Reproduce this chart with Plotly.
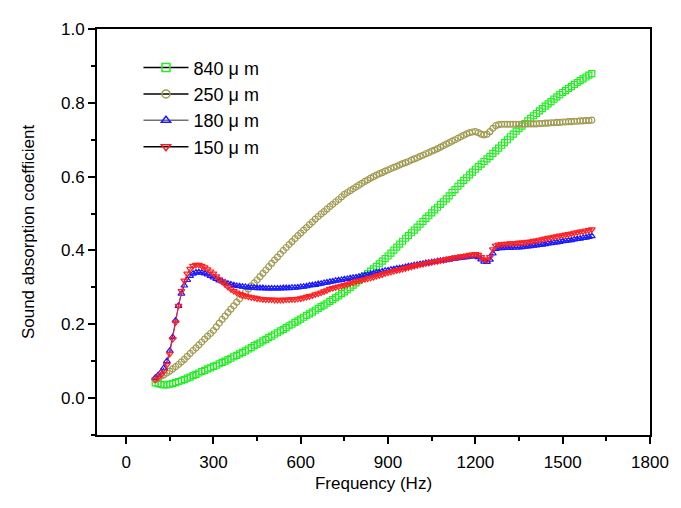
import numpy as np
import plotly.graph_objects as go

# frequency grid (Hz)
freq = np.arange(100, 1610, 10)

a_840 = [
    .041, .039, .037, .036, .036, .038, .040, .042, .045, .047,
    .050, .054, .057, .061, .064, .068, .072, .075, .079, .082,
    .086, .089, .093, .097, .100, .104, .108, .112, .116, .120,
    .124, .128, .133, .137, .142, .146, .150, .155, .159, .164,
    .168, .173, .177, .182, .186, .191, .196, .200, .205, .209,
    .214, .219, .224, .228, .233, .238, .243, .248, .252, .257,
    .262, .267, .272, .277, .283, .288, .294, .300, .306, .312,
    .318, .324, .331, .337, .344, .350, .357, .364, .371, .378,
    .385, .393, .401, .409, .417, .425, .433, .440, .448, .455,
    .463, .471, .479, .487, .494, .502, .510, .517, .525, .532,
    .540, .548, .557, .565, .574, .582, .590, .597, .605, .612,
    .620, .627, .634, .641, .648, .655, .663, .670, .677, .685,
    .692, .700, .708, .715, .723, .730, .737, .744, .751, .758,
    .765, .771, .778, .784, .791, .797, .803, .810, .816, .822,
    .828, .833, .839, .844, .850, .855, .860, .865, .870, .875,
    .879,
]

a_250 = [
    .050, .054, .059, .063, .068, .073, .079, .085, .091, .098,
    .105, .113, .121, .129, .136, .144, .152, .160, .168, .175,
    .183, .193, .203, .213, .222, .232, .241, .250, .260, .269,
    .278, .287, .295, .304, .312, .320, .329, .338, .347, .356,
    .365, .374, .382, .391, .400, .408, .416, .424, .432, .440,
    .447, .455, .462, .470, .477, .485, .492, .499, .505, .512,
    .519, .525, .532, .538, .545, .552, .557, .562, .567, .572,
    .577, .582, .587, .591, .596, .600, .604, .608, .611, .615,
    .618, .622, .625, .628, .632, .635, .638, .641, .645, .648,
    .651, .655, .658, .662, .665, .669, .672, .676, .680, .684,
    .688, .692, .696, .700, .704, .708, .712, .716, .719, .721,
    .722, .719, .715, .713, .715, .722, .731, .738, .741, .742,
    .742, .742, .742, .742, .742, .742, .742, .742, .743, .743,
    .743, .743, .744, .744, .745, .745, .746, .746, .747, .747,
    .748, .748, .749, .749, .750, .750, .751, .751, .752, .752,
    .753,
]

a_180 = [
    .055, .062, .070, .082, .100, .128, .165, .210, .250, .283,
    .305, .320, .331, .337, .340, .341, .340, .338, .335, .331,
    .327, .323, .319, .316, .313, .310, .308, .306, .304, .303,
    .302, .301, .300, .299, .299, .298, .298, .298, .297, .297,
    .297, .297, .297, .297, .298, .298, .298, .299, .299, .300,
    .301, .302, .303, .305, .306, .307, .309, .310, .312, .313,
    .315, .316, .318, .319, .320, .322, .323, .325, .326, .327,
    .329, .331, .333, .334, .336, .338, .340, .341, .343, .345,
    .346, .348, .349, .351, .352, .353, .355, .357, .358, .360,
    .361, .363, .364, .366, .367, .368, .369, .371, .372, .373,
    .374, .375, .377, .378, .379, .380, .381, .382, .383, .384,
    .385, .382, .376, .370, .369, .375, .392, .404, .406, .406,
    .407, .407, .407, .408, .408, .408, .409, .410, .411, .412,
    .413, .414, .415, .416, .417, .419, .420, .421, .422, .423,
    .425, .426, .427, .428, .430, .431, .432, .434, .435, .437,
    .439,
]

a_150 = [
    .050, .056, .063, .072, .090, .120, .160, .205, .250, .290,
    .318, .337, .350, .358, .361, .361, .358, .354, .349, .343,
    .337, .330, .322, .315, .308, .301, .295, .290, .286, .282,
    .279, .277, .275, .273, .272, .270, .269, .268, .267, .267,
    .267, .266, .266, .266, .266, .267, .267, .268, .268, .269,
    .270, .272, .274, .276, .278, .281, .283, .286, .289, .292,
    .296, .298, .300, .302, .304, .306, .308, .311, .313, .316,
    .318, .320, .322, .324, .326, .328, .331, .333, .335, .338,
    .340, .342, .344, .346, .348, .350, .352, .354, .356, .358,
    .360, .362, .363, .365, .366, .368, .370, .371, .373, .374,
    .376, .378, .379, .381, .382, .384, .385, .386, .388, .389,
    .390, .388, .382, .376, .374, .382, .403, .413, .416, .417,
    .418, .418, .419, .419, .420, .421, .421, .422, .423, .424,
    .426, .427, .429, .430, .432, .434, .435, .437, .438, .440,
    .441, .443, .444, .446, .448, .449, .451, .452, .454, .455,
    .457,
]

labels = ["840 μ m", "250 μ m", "180 μ m", "150 μ m"]
colors = ["#22ee22", "#a09a50", "#1a1aff", "#ff2020"]
symbols = ["square-open", "circle-open", "triangle-up-open", "triangle-down-open"]
modes = ["markers", "markers", "lines+markers", "lines+markers"]
legend_lines = ["black", "black", "#707070", "black"]
series = [a_840, a_250, a_180, a_150]

fig = go.Figure()

for vals, col, sym, md in zip(series, colors, symbols, modes):
    fig.add_trace(go.Scatter(
        x=freq, y=vals, mode=md,
        line=dict(color=col, width=1),
        marker=dict(symbol=sym, size=6, color=col, line=dict(width=1.2, color=col)),
        showlegend=False,
    ))

# legend entries: black line with coloured marker, as in the original
for lab, col, sym, lc in zip(labels, colors, symbols, legend_lines):
    fig.add_trace(go.Scatter(
        x=[None], y=[None], mode="lines+markers", name=lab,
        line=dict(color=lc, width=1.5),
        marker=dict(symbol=sym, size=8, color=col, line=dict(width=1.5, color=col)),
    ))

axis_font = dict(family="Liberation Sans, Arial", size=17, color="black")

# page body adds an 8px offset, so the figure is 8px smaller than the window
fig.update_layout(
    width=673, height=500,
    margin=dict(l=89, r=22, t=13, b=73),
    paper_bgcolor="white", plot_bgcolor="white",
    font=axis_font,
    legend=dict(
        x=0.075, y=0.95, xanchor="left", yanchor="top",
        font=dict(family="Liberation Sans, Arial", size=18, color="black"),
        bgcolor="rgba(0,0,0,0)", tracegroupgap=0, itemwidth=45,
    ),
    xaxis=dict(
        range=[-100, 1800], tick0=0, dtick=300,
        ticks="outside", ticklen=7, tickwidth=1.5, tickcolor="black",
        ticklabelstandoff=4,
        minor=dict(dtick=150, tick0=0, ticks="outside", ticklen=4, tickcolor="black", tickwidth=1.5),
        showline=True, linewidth=2, linecolor="black", mirror=True,
        showgrid=False, zeroline=False,
        title=dict(text="Frequency (Hz)", font=axis_font, standoff=6),
        tickfont=axis_font,
    ),
    yaxis=dict(
        range=[-0.1, 1.0], tick0=0, dtick=0.2, tickformat=".1f",
        ticks="outside", ticklen=7, tickwidth=1.5, tickcolor="black",
        minor=dict(dtick=0.1, tick0=0, ticks="outside", ticklen=4, tickcolor="black", tickwidth=1.5),
        showline=True, linewidth=2, linecolor="black", mirror=True,
        showgrid=False, zeroline=False,
        title=dict(text="Sound absorption coefficient", font=axis_font, standoff=22),
        tickfont=axis_font,
    ),
)

fig.write_html("out.html")
